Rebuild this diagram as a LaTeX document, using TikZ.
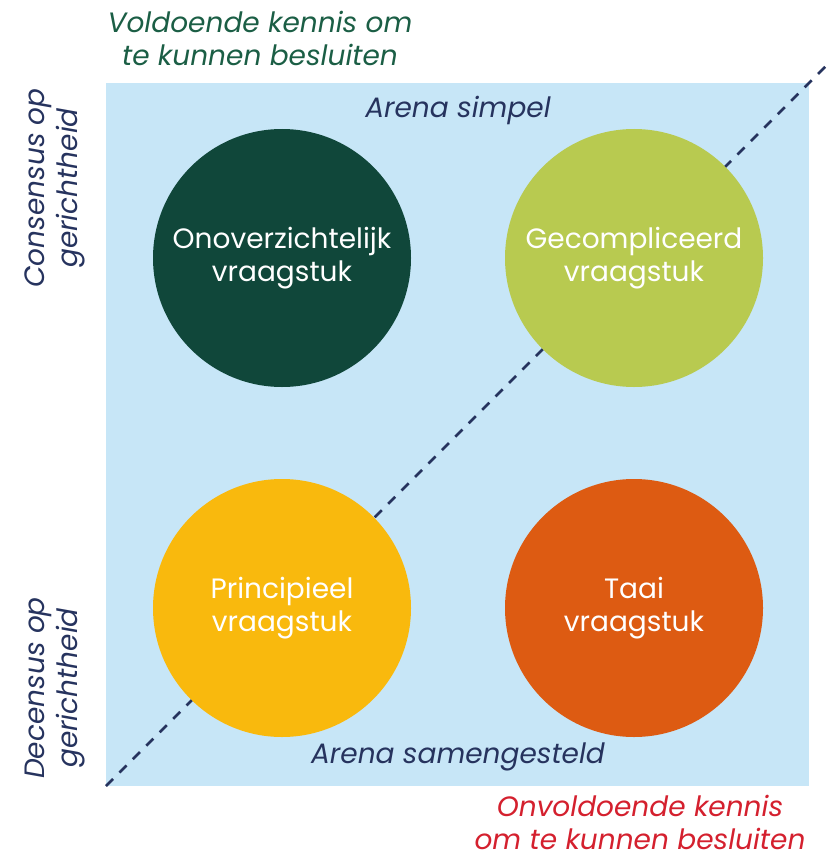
\documentclass[tikz,border=0pt]{standalone}
\usepackage{fontspec}
\setmainfont{Poppins}
\usepackage{tikz}
\usetikzlibrary{positioning}
\definecolor{arenablue}{HTML}{C7E6F7}
\definecolor{navy}{HTML}{26335E}
\definecolor{darkgreen}{HTML}{10473A}
\definecolor{limegreen}{HTML}{B8CA50}
\definecolor{sunyellow}{HTML}{F9B90D}
\definecolor{burntorange}{HTML}{DD5B12}
\definecolor{textgreen}{HTML}{1B5E45}
\definecolor{textred}{HTML}{D4202E}
\tikzset
{
	vraag/.style = {circle, minimum size=258pt, inner sep=0pt, align=center, text=white, font=\fontsize{28}{33}\selectfont},
	arena/.style = {text=navy, font=\fontsize{28}{33}\selectfont\itshape},
	axis/.style  = {align=center, inner sep=1pt, font=\fontsize{28}{33}\selectfont\itshape},
	side/.style  = {align=center, text=navy, rotate=90, font=\fontsize{28}{33}\selectfont\itshape}
}

\begin{document}
\begin{tikzpicture}[x=1pt, y=-1pt]
\useasboundingbox (0,0) rectangle (833,856);
% veld
\fill[arenablue] (106,83) rectangle (809,786);
\coordinate (lo) at (106,786);
\coordinate (hi) at (828,64);
\draw[navy, dash pattern=on 10pt off 9pt, line width=2.6pt] (lo) -- (hi);

% vier vraagstukken
\node[vraag, fill=darkgreen] (onover) at (282,258) {Onoverzichtelijk\\vraagstuk};
\node[vraag, fill=limegreen] (gecomp) at (634,258) {Gecompliceerd\\vraagstuk};
\node[vraag, fill=sunyellow] (princ) at (282,608) {Principieel\\vraagstuk};
\node[vraag, fill=burntorange] (taai) at (634,608) {Taai\\vraagstuk};

\node[arena] (simpel) at (458,110) {Arena simpel};
\node[arena] (samen) at (458,757) {Arena samengesteld};

\node[axis, text=textgreen] (voldoende) at (260,38) {Voldoende kennis om\\te kunnen besluiten};
\node[axis, text=textred] (onvoldoende) at (640,822) {Onvoldoende kennis\\om te kunnen besluiten};

\node[side] (consensus) at (55,188) {Consensus op\\gerichtheid};
\node[side] (decensus) at (55,688) {Decensus op\\gerichtheid};
\end{tikzpicture}
\end{document}
